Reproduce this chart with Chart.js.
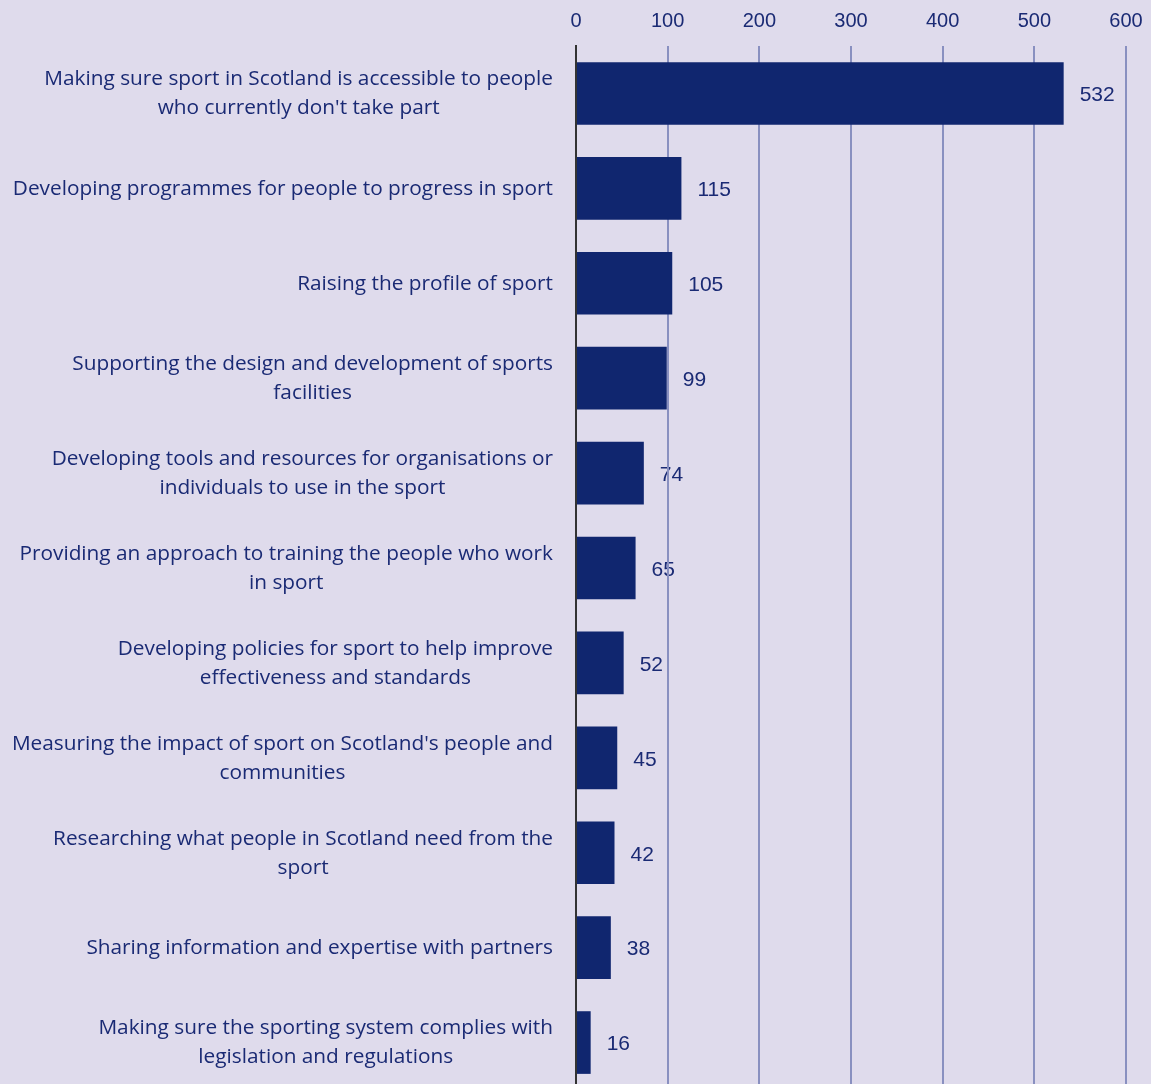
<!DOCTYPE html>
<html>
<head>
<meta charset="utf-8">
<script src="https://cdn.jsdelivr.net/npm/chart.js@4/dist/chart.umd.min.js"></script>
<style>
    html, body { margin: 0; padding: 0; background: #dfdbec; overflow: hidden; }
    #wrap { position: relative; width: 1151px; height: 1084px; overflow: hidden; }
    #box { position: absolute; left: 0; top: 0; width: 1151px; height: 1090px; }
</style>
</head>
<body>
<div id="wrap"><div id="box"><canvas id="priorityChart"></canvas></div></div>
<script>
// Category labels, each split into the lines it is drawn on
const categories = [
    ['Making sure sport in Scotland is accessible to people', "who currently don't take part"],
    ['Developing programmes for people to progress in sport'],
    ['Raising the profile of sport'],
    ['Supporting the design and development of sports', 'facilities'],
    ['Developing tools and resources for organisations or', 'individuals to use in the sport'],
    ['Providing an approach to training the people who work', 'in sport'],
    ['Developing policies for sport to help improve', 'effectiveness and standards'],
    ["Measuring the impact of sport on Scotland's people and", 'communities'],
    ['Researching what people in Scotland need from the', 'sport'],
    ['Sharing information and expertise with partners'],
    ['Making sure the sporting system complies with', 'legislation and regulations']
];
const responses = [532, 115, 105, 99, 74, 65, 52, 45, 42, 38, 16];
const xTicks = [0, 100, 200, 300, 400, 500, 600];

const NAVY = '#10266f';
const TEXT = '#1a2a74';

// Multi-line category labels: right aligned as a block, lines centred inside it
const categoryLabels = {
    id: 'categoryLabels',
    afterDraw(chart) {
        const ctx = chart.ctx;
        const y = chart.scales.y;
        const right = 553;
        const lineH = 29;
        ctx.save();
        ctx.font = '20.8px "Open Sans"';
        ctx.fillStyle = TEXT;
        ctx.textBaseline = 'middle';
        ctx.textAlign = 'center';
        categories.forEach((lines, i) => {
            const cy = y.getPixelForTick(i) + 0.5;
            const w = Math.max(...lines.map(l => ctx.measureText(l).width));
            const cx = right - w / 2;
            const top = cy - (lines.length - 1) * lineH / 2;
            lines.forEach((l, j) => ctx.fillText(l, cx, top + j * lineH));
        });
        ctx.restore();
    }
};

// Value labels, drawn before the scales so the grid lines pass over them
const valueLabels = {
    id: 'valueLabels',
    beforeDraw(chart) {
        const ctx = chart.ctx;
        const meta = chart.getDatasetMeta(0);
        ctx.save();
        ctx.font = '21px "Liberation Sans", Arial, sans-serif';
        ctx.fillStyle = TEXT;
        ctx.textBaseline = 'middle';
        ctx.textAlign = 'left';
        meta.data.forEach((bar, i) => {
            ctx.fillText(String(responses[i]), bar.x + 16, bar.y + 2);
        });
        ctx.restore();
    }
};

const ctx = document.getElementById('priorityChart').getContext('2d');
new Chart(ctx, {
    type: 'bar',
    data: {
        labels: categories.map(c => c.join(' ')),
        datasets: [{
            data: responses,
            backgroundColor: NAVY,
            borderWidth: 0,
            categoryPercentage: 1,
            barPercentage: 0.66
        }]
    },
    options: {
        indexAxis: 'y',
        responsive: true,
        maintainAspectRatio: false,
        animation: false,
        layout: { padding: { left: 0, right: 25, top: 0, bottom: 0 } },
        scales: {
            x: {
                position: 'top',
                min: 0,
                max: 600,
                afterBuildTicks: scale => { scale.ticks = xTicks.map(v => ({ value: v })); },
                afterFit: scale => {
                    scale.height = 46;
                    scale.paddingLeft = 0;
                    scale.paddingRight = 0;
                },
                grid: { color: '#8990c0', lineWidth: 2, drawTicks: false },
                border: { display: false },
                ticks: {
                    padding: 13,
                    color: TEXT,
                    font: { family: '"Liberation Sans", Arial, sans-serif', size: 20 }
                }
            },
            y: {
                afterFit: scale => { scale.width = 576; },
                grid: { display: false },
                border: { display: true, color: '#333333', width: 2 },
                ticks: { display: false }
            }
        },
        plugins: {
            legend: { display: false },
            tooltip: { enabled: false }
        }
    },
    plugins: [valueLabels, categoryLabels]
});
</script>
</body>
</html>
